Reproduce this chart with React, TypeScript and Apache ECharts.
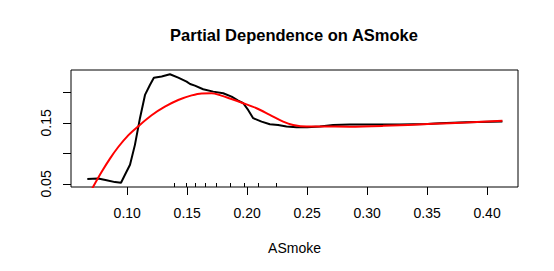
import React, { useEffect, useRef } from "react";
import * as echarts from "echarts";

const blackX = [0.0667, 0.0758, 0.0828, 0.0898, 0.0948, 0.0981, 0.1023, 0.1064, 0.1106, 0.1148, 0.1189, 0.1222, 0.1287, 0.1356, 0.1425, 0.1495, 0.1524, 0.1564, 0.1633, 0.1717, 0.18, 0.187, 0.1925, 0.1967, 0.2008, 0.205, 0.212, 0.2189, 0.2258, 0.2328, 0.2412, 0.25, 0.2606, 0.2717, 0.2856, 0.3, 0.3273, 0.35, 0.3606, 0.3828, 0.4128];
const blackY = [0.058, 0.059, 0.0562, 0.053, 0.052, 0.065, 0.0814, 0.114, 0.1577, 0.1958, 0.212, 0.224, 0.226, 0.2296, 0.224, 0.2175, 0.2137, 0.211, 0.2051, 0.2012, 0.1985, 0.193, 0.1864, 0.1822, 0.1712, 0.1577, 0.1521, 0.1478, 0.1467, 0.144, 0.143, 0.143, 0.144, 0.1467, 0.1473, 0.1473, 0.1473, 0.148, 0.1495, 0.1511, 0.1521];

const redX = [0.0667, 0.0717, 0.0787, 0.0856, 0.0925, 0.1008, 0.1092, 0.1203, 0.1314, 0.1425, 0.1537, 0.162, 0.1703, 0.1773, 0.1856, 0.1967, 0.2078, 0.2189, 0.23, 0.2383, 0.2495, 0.2606, 0.2856, 0.3133, 0.355, 0.3828, 0.4128];
const redY = [0.028, 0.046, 0.07, 0.0915, 0.1105, 0.1295, 0.1445, 0.1625, 0.1765, 0.1875, 0.195, 0.1982, 0.1984, 0.1955, 0.19, 0.1822, 0.174, 0.1631, 0.1521, 0.1467, 0.144, 0.144, 0.1438, 0.1451, 0.1484, 0.1505, 0.1533];

const xTicks = [0.1, 0.15, 0.2, 0.25, 0.3, 0.35, 0.4];
const yTicks = [0.05, 0.1, 0.15, 0.2];
const yLabels = [0.05, 0.15];
const rugX = [0.1389, 0.1489, 0.1567, 0.1653, 0.1742, 0.1862, 0.1975, 0.2095, 0.2245];

const FONT = "'Liberation Sans', Arial, Helvetica, sans-serif";

export default function App() {
  const ref = useRef<HTMLDivElement>(null);
  useEffect(() => {
    if (!ref.current) return;
    const chart = echarts.init(ref.current, undefined, { renderer: "svg" });
    const fmt = (v: number) => v.toFixed(2);
    chart.setOption({
      animation: false,
      backgroundColor: "#ffffff",
      textStyle: { fontFamily: FONT },
      graphic: [
        {
          type: "text",
          x: 294,
          y: 35,
          style: {
            text: "Partial Dependence on ASmoke",
            fontFamily: FONT,
            fontSize: 16.5,
            fontWeight: "bold",
            fill: "#000",
            textAlign: "center",
            textVerticalAlign: "middle",
          },
        },
      ],
      grid: {
        left: 71,
        top: 70,
        right: 36,
        bottom: 84,
        show: true,
        borderColor: "#000",
        borderWidth: 1,
        backgroundColor: "transparent",
      },
      xAxis: [
        {
          type: "value",
          min: 0.0531,
          max: 0.4258,
          name: "ASmoke",
          nameLocation: "middle",
          nameGap: 54,
          nameTextStyle: { fontFamily: FONT, fontSize: 14, color: "#000" },
          axisLine: { show: false },
          splitLine: { show: false },
          axisTick: {
            show: true,
            length: 8,
            lineStyle: { color: "#000", width: 1 },
            customValues: xTicks,
          },
          axisLabel: {
            show: true,
            margin: 19,
            fontFamily: FONT,
            fontSize: 14,
            color: "#000",
            customValues: xTicks,
            formatter: fmt,
          },
        },
        {
          type: "value",
          min: 0.0531,
          max: 0.4258,
          position: "bottom",
          axisLine: { show: false },
          splitLine: { show: false },
          axisLabel: { show: false },
          axisTick: {
            show: true,
            inside: true,
            length: 4,
            lineStyle: { color: "#000", width: 1 },
            customValues: rugX,
          },
        },
      ],
      yAxis: {
        type: "value",
        min: 0.045,
        max: 0.2366,
        axisLine: { show: false },
        splitLine: { show: false },
        axisTick: {
          show: true,
          length: 8,
          lineStyle: { color: "#000", width: 1 },
          customValues: yTicks,
        },
        axisLabel: {
          show: true,
          rotate: 90,
          margin: 18,
          fontFamily: FONT,
          fontSize: 14,
          color: "#000",
          customValues: yLabels,
          formatter: fmt,
        },
      },
      series: [
        {
          type: "line",
          name: "partial dependence",
          xAxisIndex: 0,
          data: blackX.map((x, i) => [x, blackY[i]]),
          showSymbol: false,
          symbol: "none",
          clip: true,
          lineStyle: { color: "#000", width: 2 },
          z: 2,
        },
        {
          type: "line",
          name: "smooth",
          xAxisIndex: 0,
          data: redX.map((x, i) => [x, redY[i]]),
          showSymbol: false,
          symbol: "none",
          smooth: 0.3,
          clip: true,
          lineStyle: { color: "#ff0000", width: 2 },
          z: 3,
        },
      ],
    });
    return () => chart.dispose();
  }, []);
  return (
    <div
      ref={ref}
      style={{ position: "absolute", left: 0, top: 0, width: 554, height: 271, background: "#fff" }}
    />
  );
}
